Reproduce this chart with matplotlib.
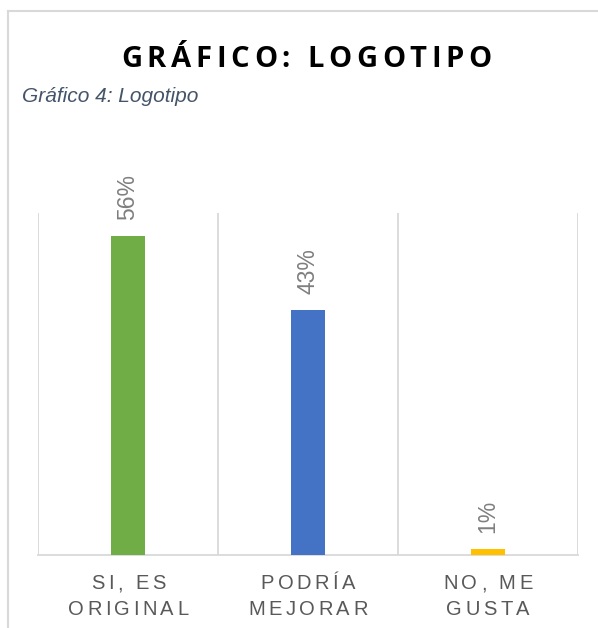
#!/usr/bin/env python

import matplotlib
matplotlib.use("Agg")
from matplotlib import pyplot as plt
from matplotlib.lines import Line2D
from matplotlib.font_manager import FontProperties

categories = ["SI, ES\nORIGINAL", "PODRÍA\nMEJORAR", "NO, ME\nGUSTA"]
values = [56, 43, 1]
colors = ["#70AD47", "#4472C4", "#FFC000"]

W, H = 598, 628
fig = plt.figure(figsize=(W / 100, H / 100), dpi=100)
renderer = fig.canvas.get_renderer()


def spaced_text(x_px, y_px, s, prop, color, spacing=0.0, width=None):
    # draw text letter by letter (matplotlib has no letter spacing), centred on x_px
    widths = [renderer.get_text_width_height_descent(c, prop, ismath=False)[0] for c in s]
    if width is not None:
        spacing = (width - sum(widths)) / max(len(s) - 1, 1)
    total = sum(widths) + spacing * (len(s) - 1)
    x = x_px - total / 2
    for c, w in zip(s, widths):
        fig.text(x / W, 1 - y_px / H, c, fontproperties=prop, color=color,
                 ha="left", va="baseline")
        x += w + spacing
    return total


# outer frame of the chart (screenshot edge)
grey = "#D9D9D9"
fig.add_artist(Line2D([8 / W, 1], [1 - 11 / H] * 2, color=grey, lw=1.5))
fig.add_artist(Line2D([8 / W] * 2, [0, 1 - 11 / H], color=grey, lw=1.5))

# title and caption
title_fp = FontProperties(family="Open Sans", weight="bold", size=21)
spaced_text(306.5, 67, "GRÁFICO: LOGOTIPO", title_fp, "black", width=371)
fig.text(22 / W, 1 - 102 / H, "Gráfico 4: Logotipo", family="Liberation Sans",
         style="italic", fontsize=15, color="#44546A", va="baseline")

# plot area
ax = fig.add_axes([38 / W, 1 - 555 / H, 540 / W, (555 - 213) / H])
x = list(range(len(values)))
bars = ax.bar(x, values, width=0.19, color=colors, zorder=3)
ax.set_xlim(-0.5, len(values) - 0.5)
ax.set_ylim(0, 60)
for b in [i - 0.5 for i in range(len(values) + 1)]:
    ax.axvline(b, color=grey, lw=1.3, zorder=1)
for s in ["top", "left", "right"]:
    ax.spines[s].set_visible(False)
ax.spines["bottom"].set_color(grey)
ax.spines["bottom"].set_linewidth(1.3)
ax.set_xticks([])
ax.set_yticks([])

for rect, v in zip(bars, values):
    ax.annotate(f"{v}%", (rect.get_x() + rect.get_width() / 2, rect.get_height()),
                xytext=(0, 11.5), textcoords="offset points", rotation=90,
                ha="center", va="bottom", fontsize=16.5, color="#7F7F7F",
                family="Liberation Sans")

# category labels, letter spaced
fig.canvas.draw()
tick_fp = FontProperties(family="Liberation Sans", size=14.5)
for i, cat in enumerate(categories):
    xpx = ax.transData.transform((i, 0))[0]
    for j, line in enumerate(cat.split("\n")):
        spaced_text(xpx, 589 + 26 * j, line, tick_fp, "#595959", spacing=3.5)

fig.savefig("out.png", dpi=100)
